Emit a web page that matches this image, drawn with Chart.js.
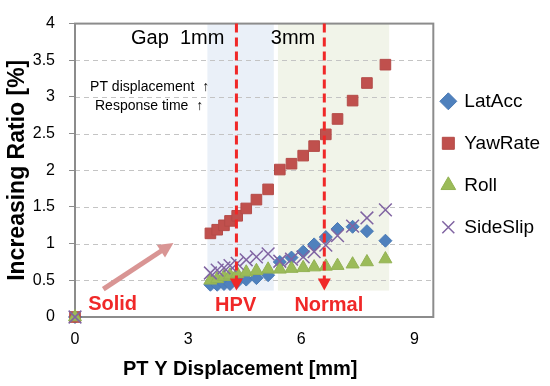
<!DOCTYPE html>
<html>
<head>
<meta charset="utf-8">
<script src="https://cdn.jsdelivr.net/npm/chart.js"></script>
<style>
  html, body { margin: 0; padding: 0; background: #fff; }
</style>
</head>
<body>
<canvas id="chart-1" width="550" height="386"></canvas>
<script>
// Series data (PT Y displacement in mm, ratio in %)
const seriesNames = ['LatAcc', 'YawRate', 'Roll', 'SideSlip'];
const dispX    = [0, 3.59, 3.77, 3.95, 4.11, 4.30, 4.54, 4.81, 5.12, 5.43, 5.74, 6.05, 6.34, 6.65, 6.96, 7.36, 7.74, 8.23];
const latAcc   = [0, 0.44, 0.44, 0.45, 0.45, 0.48, 0.51, 0.53, 0.57, 0.75, 0.81, 0.89, 0.99, 1.09, 1.20, 1.23, 1.17, 1.04];
const yawRate  = [0, 1.14, 1.19, 1.25, 1.31, 1.38, 1.48, 1.60, 1.74, 2.01, 2.09, 2.20, 2.33, 2.49, 2.70, 2.95, 3.19, 3.44];
const roll     = [0, 0.50, 0.52, 0.55, 0.57, 0.59, 0.61, 0.63, 0.65, 0.65, 0.66, 0.67, 0.68, 0.69, 0.70, 0.72, 0.75, 0.79];
const sideSlip = [0, 0.60, 0.64, 0.67, 0.70, 0.73, 0.78, 0.82, 0.86, 0.76, 0.79, 0.82, 0.89, 0.98, 1.11, 1.24, 1.35, 1.46];
const xTicks = [0, 3, 6, 9];
const yTicks = [0, 0.5, 1, 1.5, 2, 2.5, 3, 3.5, 4];

const FONT = "'Liberation Sans', Arial, sans-serif";

// gap ranges and device markers (in data units)
const zones = [
  { from: 3.51, to: 5.27, color: '#EAF0F8' },
  { from: 5.38, to: 8.33, color: '#F1F4E9' }
];
const zoneBottom = 0.36;
const deviceLines = [4.28, 6.61];

function pts(ys) {
  return dispX.map((x, i) => ({ x: x, y: ys[i] }));
}

const annotations = {
  id: 'annotations',
  beforeDraw(chart) {
    const { ctx, chartArea, scales: { x, y } } = chart;
    ctx.save();
    zones.forEach(z => {
      const x1 = x.getPixelForValue(z.from), x2 = x.getPixelForValue(z.to);
      const yb = y.getPixelForValue(zoneBottom);
      ctx.fillStyle = z.color;
      ctx.fillRect(x1, chartArea.top, x2 - x1, yb - chartArea.top);
    });
    // dashed horizontal gridlines
    ctx.strokeStyle = '#C4C4C4';
    ctx.lineWidth = 1.2;
    ctx.setLineDash([5, 4]);
    y.ticks.forEach(t => {
      if (t.value <= y.min || t.value >= y.max) return;
      const yy = Math.round(y.getPixelForValue(t.value)) + 0.5;
      ctx.beginPath();
      ctx.moveTo(chartArea.left, yy);
      ctx.lineTo(chartArea.right, yy);
      ctx.stroke();
    });
    ctx.restore();
  },
  beforeDatasetsDraw(chart) {
    const { ctx, chartArea } = chart;
    ctx.save();
    ctx.strokeStyle = '#8c8c8c';
    ctx.lineWidth = 2;
    ctx.strokeRect(chartArea.left, chartArea.top, chartArea.right - chartArea.left, chartArea.bottom - chartArea.top);
    ctx.restore();
  },
  afterDatasetsDraw(chart) {
    const { ctx, chartArea, scales: { x, y } } = chart;
    const px = v => x.getPixelForValue(v);
    const py = v => y.getPixelForValue(v);
    ctx.save();

    // red dashed device lines with arrowheads
    ctx.strokeStyle = '#F02828';
    ctx.fillStyle = '#F02828';
    ctx.lineWidth = 3;
    deviceLines.forEach(v => {
      const xx = px(v);
      const tip = py(zoneBottom);
      ctx.setLineDash([9, 5]);
      ctx.beginPath();
      ctx.moveTo(xx, chartArea.top);
      ctx.lineTo(xx, tip - 10);
      ctx.stroke();
      ctx.setLineDash([]);
      ctx.beginPath();
      ctx.moveTo(xx - 6.5, tip - 12);
      ctx.lineTo(xx + 6.5, tip - 12);
      ctx.lineTo(xx, tip);
      ctx.closePath();
      ctx.fill();
    });

    // pink arrow toward the HPV cluster
    const ax1 = px(0.75), ay1 = py(0.38), ax2 = px(2.61), ay2 = py(1.01);
    const ang = Math.atan2(ay2 - ay1, ax2 - ax1);
    ctx.strokeStyle = '#D99594';
    ctx.fillStyle = '#D99594';
    ctx.lineWidth = 5;
    ctx.beginPath();
    ctx.moveTo(ax1, ay1);
    ctx.lineTo(ax2 - 12 * Math.cos(ang), ay2 - 12 * Math.sin(ang));
    ctx.stroke();
    ctx.beginPath();
    ctx.moveTo(ax2, ay2);
    ctx.lineTo(ax2 - 15 * Math.cos(ang) + 7.5 * Math.sin(ang), ay2 - 15 * Math.sin(ang) - 7.5 * Math.cos(ang));
    ctx.lineTo(ax2 - 15 * Math.cos(ang) - 7.5 * Math.sin(ang), ay2 - 15 * Math.sin(ang) + 7.5 * Math.cos(ang));
    ctx.closePath();
    ctx.fill();

    // texts
    ctx.textBaseline = 'middle';
    ctx.fillStyle = '#000';
    ctx.font = '20px ' + FONT;
    ctx.textAlign = 'right';
    ctx.fillText('Gap  1mm', px(3.96), py(3.80));
    ctx.textAlign = 'left';
    ctx.fillText('3mm', px(5.19), py(3.80));
    ctx.font = '14px ' + FONT;
    ctx.fillText('PT displacement  \u2191', px(0.40), py(3.13));
    ctx.fillText('Response time  \u2191', px(0.53), py(2.88));

    ctx.fillStyle = '#F02828';
    ctx.font = 'bold 20px ' + FONT;
    ctx.textAlign = 'left';
    ctx.fillText('Solid', px(0.35), py(0.17));
    ctx.textAlign = 'center';
    ctx.fillText('HPV', px(4.26), py(0.16));
    ctx.fillText('Normal', px(6.73), py(0.16));
    ctx.restore();
  }
};

new Chart(document.getElementById('chart-1'), {
  type: 'scatter',
  data: {
    datasets: [
      { label: seriesNames[0], data: pts(latAcc), pointStyle: 'rectRot', pointRadius: 6.5,
        backgroundColor: '#4F81BD', borderColor: '#4A7AB5', borderWidth: 1, order: 3, clip: false },
      { label: seriesNames[1], data: pts(yawRate), pointStyle: 'rect', pointRadius: 7.5,
        backgroundColor: '#C0504D', borderColor: '#B44B48', borderWidth: 1, order: 2, clip: false },
      { label: seriesNames[2], data: pts(roll), pointStyle: 'triangle', pointRadius: 7.5,
        backgroundColor: '#9BBB59', borderColor: '#93B254', borderWidth: 1, order: 1, clip: false },
      { label: seriesNames[3], data: pts(sideSlip), pointStyle: 'crossRot', pointRadius: 9,
        backgroundColor: '#8064A2', borderColor: '#8064A2', borderWidth: 1.5, order: 0, clip: false }
    ]
  },
  options: {
    responsive: false,
    animation: false,
    events: [],
    layout: { padding: { top: 14.5, left: 0, right: 0, bottom: 0 } },
    scales: {
      x: {
        type: 'linear',
        min: 0,
        max: 9.5,
        afterBuildTicks: s => { s.ticks = xTicks.map(v => ({ value: v })); },
        afterFit: s => { s.height = 69; },
        grid: { display: false, drawTicks: false },
        border: { display: false },
        ticks: { color: '#000', padding: 13, font: { family: FONT, size: 16 }, callback: v => String(v) },
        title: {
          display: true, text: 'PT Y Displacement [mm]     ', color: '#000',
          font: { family: FONT, size: 20, weight: 'bold' }, padding: { top: 0, bottom: 5 }
        }
      },
      y: {
        type: 'linear',
        min: 0,
        max: 4,
        afterBuildTicks: s => { s.ticks = yTicks.map(v => ({ value: v })); },
        afterFit: s => { s.width = 75; },
        grid: {
          drawOnChartArea: false,
          tickLength: 6, tickColor: '#8c8c8c', tickWidth: 1
        },
        border: { display: false },
        ticks: { color: '#000', padding: 14, font: { family: FONT, size: 16 }, callback: v => String(v) },
        title: {
          display: true, text: 'Increasing Ratio [%]', color: '#000',
          font: { family: FONT, size: 23, weight: 'bold' }, padding: { top: 4, bottom: 0 }
        }
      }
    },
    plugins: {
      tooltip: { enabled: false },
      legend: {
        position: 'right',
        fullSize: false,
        maxWidth: 118,
        title: { display: true, text: '', font: { size: 10, lineHeight: '2.5px' }, padding: 0 },
        labels: {
          usePointStyle: true,
          boxWidth: 13,
          boxHeight: 12,
          padding: 8.5,
          color: '#000',
          font: { family: FONT, size: 19, lineHeight: '33.5px' },
          sort: (a, b) => a.datasetIndex - b.datasetIndex,
          generateLabels: chart => Chart.defaults.plugins.legend.labels.generateLabels(chart)
            .map(item => Object.assign(item, { text: [item.text] }))
        }
      }
    }
  },
  plugins: [annotations]
});
</script>
</body>
</html>
